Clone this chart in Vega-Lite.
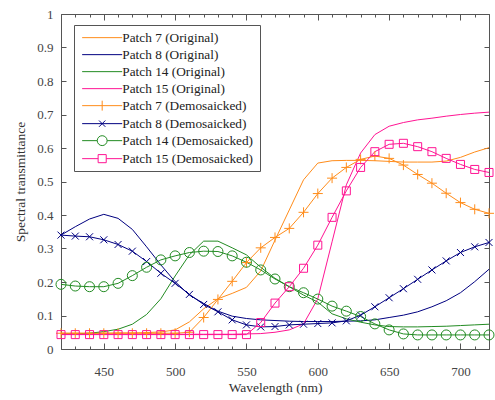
{
  "$schema": "https://vega.github.io/schema/vega-lite/v6.json",
  "autosize": {"type": "none"},
  "padding": {"left": 61, "top": 14, "right": 6, "bottom": 51},
  "width": 428,
  "height": 335,
  "data": {
    "values": [
      {"wl": 420, "Patch 7 (Original)": 0.047, "Patch 8 (Original)": 0.340, "Patch 14 (Original)": 0.044, "Patch 15 (Original)": 0.044, "Patch 7 (Demosaicked)": 0.047, "Patch 8 (Demosaicked)": 0.340, "Patch 14 (Demosaicked)": 0.193, "Patch 15 (Demosaicked)": 0.043},
      {"wl": 430, "Patch 7 (Original)": 0.047, "Patch 8 (Original)": 0.365, "Patch 14 (Original)": 0.045, "Patch 15 (Original)": 0.044, "Patch 7 (Demosaicked)": 0.047, "Patch 8 (Demosaicked)": 0.337, "Patch 14 (Demosaicked)": 0.188, "Patch 15 (Demosaicked)": 0.043},
      {"wl": 440, "Patch 7 (Original)": 0.047, "Patch 8 (Original)": 0.388, "Patch 14 (Original)": 0.047, "Patch 15 (Original)": 0.044, "Patch 7 (Demosaicked)": 0.047, "Patch 8 (Demosaicked)": 0.335, "Patch 14 (Demosaicked)": 0.186, "Patch 15 (Demosaicked)": 0.043},
      {"wl": 450, "Patch 7 (Original)": 0.047, "Patch 8 (Original)": 0.402, "Patch 14 (Original)": 0.052, "Patch 15 (Original)": 0.044, "Patch 7 (Demosaicked)": 0.047, "Patch 8 (Demosaicked)": 0.326, "Patch 14 (Demosaicked)": 0.186, "Patch 15 (Demosaicked)": 0.043},
      {"wl": 460, "Patch 7 (Original)": 0.048, "Patch 8 (Original)": 0.390, "Patch 14 (Original)": 0.059, "Patch 15 (Original)": 0.044, "Patch 7 (Demosaicked)": 0.047, "Patch 8 (Demosaicked)": 0.312, "Patch 14 (Demosaicked)": 0.196, "Patch 15 (Demosaicked)": 0.043},
      {"wl": 470, "Patch 7 (Original)": 0.048, "Patch 8 (Original)": 0.357, "Patch 14 (Original)": 0.074, "Patch 15 (Original)": 0.044, "Patch 7 (Demosaicked)": 0.047, "Patch 8 (Demosaicked)": 0.292, "Patch 14 (Demosaicked)": 0.219, "Patch 15 (Demosaicked)": 0.043},
      {"wl": 480, "Patch 7 (Original)": 0.049, "Patch 8 (Original)": 0.305, "Patch 14 (Original)": 0.103, "Patch 15 (Original)": 0.044, "Patch 7 (Demosaicked)": 0.047, "Patch 8 (Demosaicked)": 0.261, "Patch 14 (Demosaicked)": 0.244, "Patch 15 (Demosaicked)": 0.043},
      {"wl": 490, "Patch 7 (Original)": 0.051, "Patch 8 (Original)": 0.251, "Patch 14 (Original)": 0.150, "Patch 15 (Original)": 0.044, "Patch 7 (Demosaicked)": 0.047, "Patch 8 (Demosaicked)": 0.226, "Patch 14 (Demosaicked)": 0.266, "Patch 15 (Demosaicked)": 0.043},
      {"wl": 500, "Patch 7 (Original)": 0.057, "Patch 8 (Original)": 0.201, "Patch 14 (Original)": 0.218, "Patch 15 (Original)": 0.044, "Patch 7 (Demosaicked)": 0.047, "Patch 8 (Demosaicked)": 0.196, "Patch 14 (Demosaicked)": 0.278, "Patch 15 (Demosaicked)": 0.043},
      {"wl": 510, "Patch 7 (Original)": 0.081, "Patch 8 (Original)": 0.161, "Patch 14 (Original)": 0.281, "Patch 15 (Original)": 0.044, "Patch 7 (Demosaicked)": 0.050, "Patch 8 (Demosaicked)": 0.163, "Patch 14 (Demosaicked)": 0.288, "Patch 15 (Demosaicked)": 0.043},
      {"wl": 520, "Patch 7 (Original)": 0.120, "Patch 8 (Original)": 0.136, "Patch 14 (Original)": 0.322, "Patch 15 (Original)": 0.044, "Patch 7 (Demosaicked)": 0.094, "Patch 8 (Demosaicked)": 0.133, "Patch 14 (Demosaicked)": 0.292, "Patch 15 (Demosaicked)": 0.043},
      {"wl": 530, "Patch 7 (Original)": 0.150, "Patch 8 (Original)": 0.113, "Patch 14 (Original)": 0.322, "Patch 15 (Original)": 0.044, "Patch 7 (Demosaicked)": 0.148, "Patch 8 (Demosaicked)": 0.111, "Patch 14 (Demosaicked)": 0.291, "Patch 15 (Demosaicked)": 0.043},
      {"wl": 540, "Patch 7 (Original)": 0.166, "Patch 8 (Original)": 0.098, "Patch 14 (Original)": 0.302, "Patch 15 (Original)": 0.044, "Patch 7 (Demosaicked)": 0.202, "Patch 8 (Demosaicked)": 0.087, "Patch 14 (Demosaicked)": 0.278, "Patch 15 (Demosaicked)": 0.043},
      {"wl": 550, "Patch 7 (Original)": 0.184, "Patch 8 (Original)": 0.091, "Patch 14 (Original)": 0.281, "Patch 15 (Original)": 0.045, "Patch 7 (Demosaicked)": 0.258, "Patch 8 (Demosaicked)": 0.072, "Patch 14 (Demosaicked)": 0.259, "Patch 15 (Demosaicked)": 0.043},
      {"wl": 560, "Patch 7 (Original)": 0.233, "Patch 8 (Original)": 0.087, "Patch 14 (Original)": 0.244, "Patch 15 (Original)": 0.046, "Patch 7 (Demosaicked)": 0.302, "Patch 8 (Demosaicked)": 0.066, "Patch 14 (Demosaicked)": 0.236, "Patch 15 (Demosaicked)": 0.079},
      {"wl": 570, "Patch 7 (Original)": 0.325, "Patch 8 (Original)": 0.085, "Patch 14 (Original)": 0.211, "Patch 15 (Original)": 0.050, "Patch 7 (Demosaicked)": 0.333, "Patch 8 (Demosaicked)": 0.067, "Patch 14 (Demosaicked)": 0.209, "Patch 15 (Demosaicked)": 0.137},
      {"wl": 580, "Patch 7 (Original)": 0.415, "Patch 8 (Original)": 0.083, "Patch 14 (Original)": 0.186, "Patch 15 (Original)": 0.057, "Patch 7 (Demosaicked)": 0.360, "Patch 8 (Demosaicked)": 0.072, "Patch 14 (Demosaicked)": 0.186, "Patch 15 (Demosaicked)": 0.186},
      {"wl": 590, "Patch 7 (Original)": 0.505, "Patch 8 (Original)": 0.082, "Patch 14 (Original)": 0.161, "Patch 15 (Original)": 0.075, "Patch 7 (Demosaicked)": 0.408, "Patch 8 (Demosaicked)": 0.074, "Patch 14 (Demosaicked)": 0.168, "Patch 15 (Demosaicked)": 0.241},
      {"wl": 600, "Patch 7 (Original)": 0.555, "Patch 8 (Original)": 0.082, "Patch 14 (Original)": 0.140, "Patch 15 (Original)": 0.150, "Patch 7 (Demosaicked)": 0.464, "Patch 8 (Demosaicked)": 0.076, "Patch 14 (Demosaicked)": 0.149, "Patch 15 (Demosaicked)": 0.310},
      {"wl": 610, "Patch 7 (Original)": 0.562, "Patch 8 (Original)": 0.082, "Patch 14 (Original)": 0.105, "Patch 15 (Original)": 0.320, "Patch 7 (Demosaicked)": 0.510, "Patch 8 (Demosaicked)": 0.078, "Patch 14 (Demosaicked)": 0.128, "Patch 15 (Demosaicked)": 0.393},
      {"wl": 620, "Patch 7 (Original)": 0.563, "Patch 8 (Original)": 0.083, "Patch 14 (Original)": 0.090, "Patch 15 (Original)": 0.490, "Patch 7 (Demosaicked)": 0.542, "Patch 8 (Demosaicked)": 0.084, "Patch 14 (Demosaicked)": 0.113, "Patch 15 (Demosaicked)": 0.472},
      {"wl": 630, "Patch 7 (Original)": 0.563, "Patch 8 (Original)": 0.084, "Patch 14 (Original)": 0.080, "Patch 15 (Original)": 0.585, "Patch 7 (Demosaicked)": 0.566, "Patch 8 (Demosaicked)": 0.101, "Patch 14 (Demosaicked)": 0.097, "Patch 15 (Demosaicked)": 0.542},
      {"wl": 640, "Patch 7 (Original)": 0.562, "Patch 8 (Original)": 0.087, "Patch 14 (Original)": 0.072, "Patch 15 (Original)": 0.640, "Patch 7 (Demosaicked)": 0.576, "Patch 8 (Demosaicked)": 0.126, "Patch 14 (Demosaicked)": 0.075, "Patch 15 (Demosaicked)": 0.589},
      {"wl": 650, "Patch 7 (Original)": 0.560, "Patch 8 (Original)": 0.094, "Patch 14 (Original)": 0.067, "Patch 15 (Original)": 0.665, "Patch 7 (Demosaicked)": 0.569, "Patch 8 (Demosaicked)": 0.153, "Patch 14 (Demosaicked)": 0.057, "Patch 15 (Demosaicked)": 0.611},
      {"wl": 660, "Patch 7 (Original)": 0.558, "Patch 8 (Original)": 0.101, "Patch 14 (Original)": 0.066, "Patch 15 (Original)": 0.676, "Patch 7 (Demosaicked)": 0.549, "Patch 8 (Demosaicked)": 0.180, "Patch 14 (Demosaicked)": 0.045, "Patch 15 (Demosaicked)": 0.614},
      {"wl": 670, "Patch 7 (Original)": 0.558, "Patch 8 (Original)": 0.111, "Patch 14 (Original)": 0.066, "Patch 15 (Original)": 0.684, "Patch 7 (Demosaicked)": 0.521, "Patch 8 (Demosaicked)": 0.208, "Patch 14 (Demosaicked)": 0.042, "Patch 15 (Demosaicked)": 0.604},
      {"wl": 680, "Patch 7 (Original)": 0.558, "Patch 8 (Original)": 0.126, "Patch 14 (Original)": 0.067, "Patch 15 (Original)": 0.689, "Patch 7 (Demosaicked)": 0.495, "Patch 8 (Demosaicked)": 0.236, "Patch 14 (Demosaicked)": 0.042, "Patch 15 (Demosaicked)": 0.589},
      {"wl": 690, "Patch 7 (Original)": 0.561, "Patch 8 (Original)": 0.144, "Patch 14 (Original)": 0.068, "Patch 15 (Original)": 0.695, "Patch 7 (Demosaicked)": 0.465, "Patch 8 (Demosaicked)": 0.263, "Patch 14 (Demosaicked)": 0.042, "Patch 15 (Demosaicked)": 0.569},
      {"wl": 700, "Patch 7 (Original)": 0.572, "Patch 8 (Original)": 0.168, "Patch 14 (Original)": 0.070, "Patch 15 (Original)": 0.700, "Patch 7 (Demosaicked)": 0.437, "Patch 8 (Demosaicked)": 0.288, "Patch 14 (Demosaicked)": 0.042, "Patch 15 (Demosaicked)": 0.551},
      {"wl": 710, "Patch 7 (Original)": 0.588, "Patch 8 (Original)": 0.201, "Patch 14 (Original)": 0.072, "Patch 15 (Original)": 0.704, "Patch 7 (Demosaicked)": 0.417, "Patch 8 (Demosaicked)": 0.305, "Patch 14 (Demosaicked)": 0.042, "Patch 15 (Demosaicked)": 0.536},
      {"wl": 720, "Patch 7 (Original)": 0.601, "Patch 8 (Original)": 0.238, "Patch 14 (Original)": 0.074, "Patch 15 (Original)": 0.707, "Patch 7 (Demosaicked)": 0.405, "Patch 8 (Demosaicked)": 0.318, "Patch 14 (Demosaicked)": 0.042, "Patch 15 (Demosaicked)": 0.527}
    ]
  },
  "transform": [
    {"fold": ["Patch 7 (Original)", "Patch 8 (Original)", "Patch 14 (Original)", "Patch 15 (Original)", "Patch 7 (Demosaicked)", "Patch 8 (Demosaicked)", "Patch 14 (Demosaicked)", "Patch 15 (Demosaicked)"], "as": ["series", "value"]}
  ],
  "resolve": {"scale": {"x": "shared", "y": "shared", "color": "shared"}, "axis": {"x": "independent", "y": "independent"}},
  "layer": [
    {
      "transform": [{"filter": {"field": "series", "oneOf": ["Patch 7 (Original)", "Patch 8 (Original)", "Patch 14 (Original)", "Patch 15 (Original)"]}}],
      "mark": {"type": "line", "strokeWidth": 1},
      "encoding": {
        "x": {"field": "wl", "type": "quantitative", "scale": {"domain": [420, 720], "nice": false, "zero": false},
          "axis": {"orient": "bottom", "values": [420,430,440,450,460,470,480,490,500,510,520,530,540,550,560,570,580,590,600,610,620,630,640,650,660,670,680,690,700,710,720], "tickSize": -3, "labelExpr": "datum.value % 50 == 0 ? datum.label : ''", "labelPadding": 19, "title": "Wavelength (nm)", "titlePadding": 2}},
        "y": {"field": "value", "type": "quantitative", "scale": {"domain": [0, 1], "nice": false, "zero": false},
          "axis": {"orient": "left", "values": [0,0.1,0.2,0.3,0.4,0.5,0.6,0.7,0.8,0.9,1], "format": "~g", "tickSize": -5, "labelPadding": 13, "title": "Spectral transmittance", "titlePadding": 9}},
        "color": {"field": "series", "type": "nominal",
          "scale": {"domain": ["Patch 7 (Original)", "Patch 8 (Original)", "Patch 14 (Original)", "Patch 15 (Original)", "Patch 7 (Demosaicked)", "Patch 8 (Demosaicked)", "Patch 14 (Demosaicked)", "Patch 15 (Demosaicked)"],
            "range": ["#FF8C1A", "#000080", "#228B22", "#FF1493", "#FF8C1A", "#000080", "#228B22", "#FF1493"]},
          "legend": {
            "orient": "none", "legendX": 13, "legendY": 11, "title": null,
            "symbolSize": 81, "symbolStrokeWidth": 1, "labelOffset": 29,
            "encode": {"symbols": {"update": {
              "size": {"value": 81},
              "fill": {"value": "transparent"},
              "shape": {"signal": "datum.value === 'Patch 7 (Demosaicked)' ? 'M-1,0H7.9M3.45,-1.1V1.1' : datum.value === 'Patch 8 (Demosaicked)' ? 'M-1,0H7.9M2.75,-0.7L4.15,0.7M2.75,0.7L4.15,-0.7' : datum.value === 'Patch 14 (Demosaicked)' ? 'M-1,0H2.35M4.55,0H7.9M2.35,0A1.1,1.1 0 1,0 4.55,0A1.1,1.1 0 1,0 2.35,0' : datum.value === 'Patch 15 (Demosaicked)' ? 'M-1,0H2.55M4.35,0H7.9M2.55,-0.9H4.35V0.9H2.55Z' : 'M-1,0H7.9'"}
            }}}
          }}
      }
    },
    {
      "transform": [{"filter": {"field": "series", "oneOf": ["Patch 7 (Demosaicked)", "Patch 8 (Demosaicked)", "Patch 14 (Demosaicked)", "Patch 15 (Demosaicked)"]}}],
      "mark": {"type": "line", "strokeWidth": 1},
      "encoding": {
        "x": {"field": "wl", "type": "quantitative", "scale": {"domain": [420, 720], "nice": false, "zero": false},
          "axis": {"orient": "bottom", "values": [450, 500, 550, 600, 650, 700], "tickSize": -6, "labels": false, "title": null}},
        "y": {"field": "value", "type": "quantitative",
          "axis": {"orient": "right", "values": [0,0.1,0.2,0.3,0.4,0.5,0.6,0.7,0.8,0.9,1], "tickSize": -5, "labels": false, "title": null}},
        "color": {"field": "series", "type": "nominal"}
      }
    },
    {
      "transform": [{"filter": {"field": "series", "oneOf": ["Patch 7 (Demosaicked)", "Patch 8 (Demosaicked)"]}}],
      "mark": {"type": "point", "filled": false, "size": 100, "strokeWidth": 1, "opacity": 1},
      "encoding": {
        "x": {"field": "wl", "type": "quantitative",
          "axis": {"orient": "top", "values": [420,430,440,450,460,470,480,490,500,510,520,530,540,550,560,570,580,590,600,610,620,630,640,650,660,670,680,690,700,710,720], "tickSize": -3, "labels": false, "title": null}},
        "y": {"field": "value", "type": "quantitative", "axis": null},
        "color": {"field": "series", "type": "nominal"},
        "shape": {"field": "series", "type": "nominal",
          "scale": {"domain": ["Patch 7 (Demosaicked)", "Patch 8 (Demosaicked)", "Patch 14 (Demosaicked)", "Patch 15 (Demosaicked)"],
            "range": ["M-1,0H1M0,-1V1", "M-0.7,-0.7L0.7,0.7M-0.7,0.7L0.7,-0.7", "circle", "M-0.8,-0.8H0.8V0.8H-0.8Z"]},
          "legend": null}
      }
    },
    {
      "transform": [{"filter": {"field": "series", "oneOf": ["Patch 14 (Demosaicked)", "Patch 15 (Demosaicked)"]}}],
      "mark": {"type": "point", "filled": false, "size": 100, "strokeWidth": 1, "opacity": 1},
      "encoding": {
        "x": {"field": "wl", "type": "quantitative",
          "axis": {"orient": "top", "values": [450, 500, 550, 600, 650, 700], "tickSize": -6, "labels": false, "title": null}},
        "y": {"field": "value", "type": "quantitative", "axis": null},
        "color": {"field": "series", "type": "nominal"},
        "shape": {"field": "series", "type": "nominal", "legend": null}
      }
    }
  ],
  "config": {
    "font": "Liberation Serif",
    "view": {"stroke": "#555", "strokeWidth": 1},
    "axis": {"domain": false, "grid": false, "labelFont": "Liberation Serif", "titleFont": "Liberation Serif", "labelFontSize": 13, "titleFontSize": 13.5, "titleFontWeight": "normal", "labelColor": "#444", "titleColor": "#333", "tickColor": "#555", "tickWidth": 1},
    "legend": {"labelFont": "Liberation Serif", "labelFontSize": 13.3, "labelColor": "#222", "strokeColor": "#555", "fillColor": "white", "padding": 6, "rowPadding": 3, "labelLimit": 300}
  }
}
